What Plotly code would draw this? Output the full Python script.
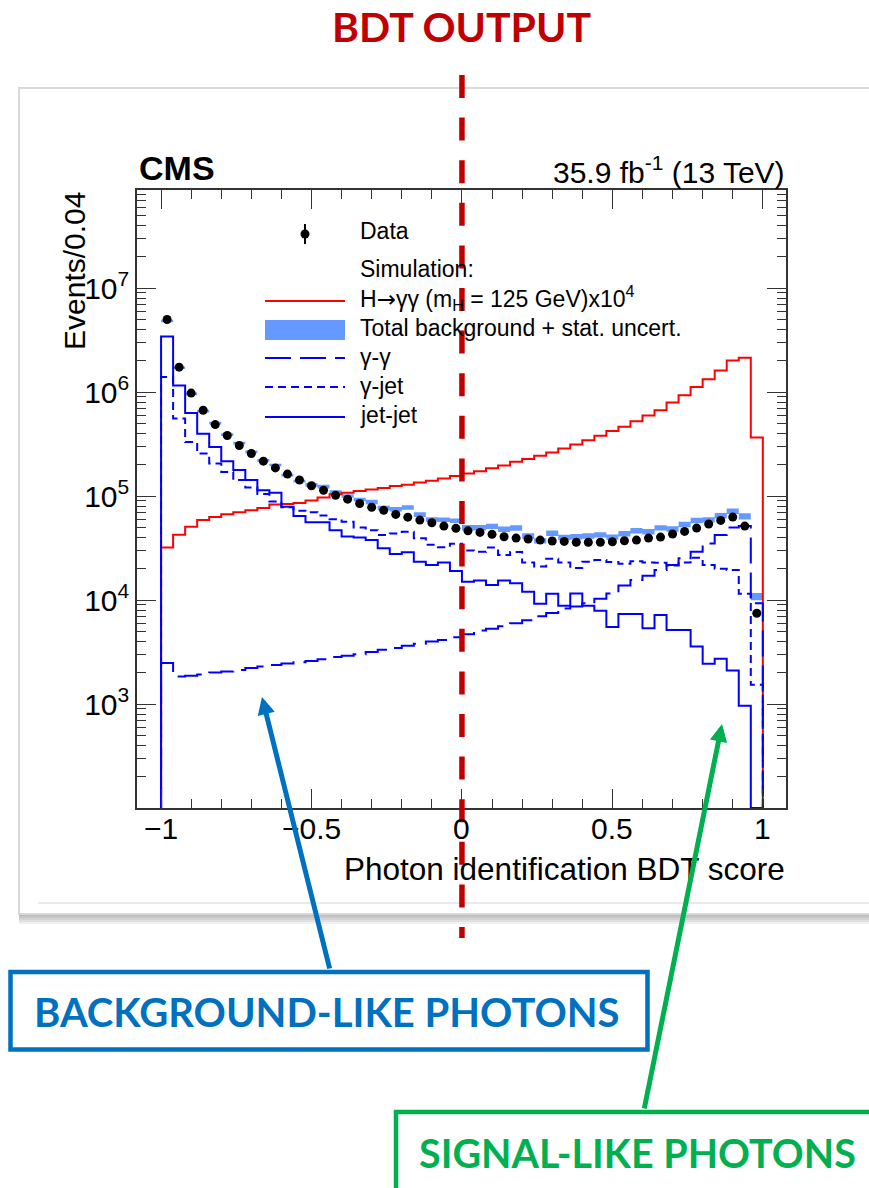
import numpy as np
import plotly.graph_objects as go

# ---------------- binning and axes ----------------
n_bins = 50
x_lo, x_hi = -1.0, 1.0
x_range = [-1.08, 1.077]
y_range_log = [2.0, 7.945]

x_tick_vals = [-1, -0.5, 0, 0.5, 1]
x_tick_text = ["\u22121", "\u22120.5", "0", "0.5", "1"]
y_tick_vals = [1e3, 1e4, 1e5, 1e6, 1e7]
y_tick_text = ["10<sup>3</sup>", "10<sup>4</sup>", "10<sup>5</sup>",
               "10<sup>6</sup>", "10<sup>7</sup>"]

# ---------------- histogram contents (events / 0.04) ----------------
data_events = [
    5.0e6, 1.74e6, 9.8e5, 6.7e5, 4.88e5, 3.83e5, 3.07e5, 2.57e5, 2.17e5, 1.87e5,
    1.63e5, 1.43e5, 1.26e5, 1.14e5, 1.02e5, 9.35e4, 8.5e4, 7.8e4, 7.3e4, 6.67e4,
    6.28e4, 5.88e4, 5.54e4, 5.15e4, 4.9e4, 4.64e4, 4.48e4, 4.29e4, 4.07e4, 3.95e4,
    3.87e4, 3.78e4, 3.7e4, 3.67e4, 3.6e4, 3.6e4, 3.6e4, 3.64e4, 3.72e4, 3.78e4,
    3.95e4, 4.04e4, 4.32e4, 4.58e4, 4.93e4, 5.39e4, 5.84e4, 6.29e4, 5.15e4, 7.48e3,
]

sig_hgg_x1e4 = [
    3.2e4, 4.25e4, 5.07e4, 5.88e4, 6.3e4, 6.7e4, 7.0e4, 7.3e4, 7.7e4, 8.3e4,
    8.4e4, 8.6e4, 9.1e4, 9.7e4, 1.045e5, 1.08e5, 1.12e5, 1.16e5, 1.2e5, 1.25e5,
    1.29e5, 1.35e5, 1.41e5, 1.48e5, 1.56e5, 1.65e5, 1.74e5, 1.85e5, 1.97e5, 2.14e5,
    2.28e5, 2.44e5, 2.63e5, 2.87e5, 3.14e5, 3.45e5, 3.8e5, 4.24e5, 4.65e5, 5.25e5,
    5.96e5, 6.7e5, 7.94e5, 9.34e5, 1.12e6, 1.33e6, 1.62e6, 2.02e6, 2.15e6, 3.66e5,
]

bkg_gamma_gamma = [
    2.48e3, 1.84e3, 1.87e3, 1.92e3, 2.01e3, 2.06e3, 2.13e3, 2.22e3, 2.3e3, 2.38e3,
    2.46e3, 2.52e3, 2.6e3, 2.7e3, 2.83e3, 2.91e3, 3.02e3, 3.16e3, 3.32e3, 3.47e3,
    3.63e3, 3.8e3, 3.99e3, 4.14e3, 4.4e3, 4.7e3, 5.1e3, 5.3e3, 5.6e3, 6.0e3,
    6.4e3, 7.0e3, 7.5e3, 8.3e3, 8.7e3, 9.3e3, 1.03e4, 1.16e4, 1.38e4, 1.56e4,
    1.71e4, 1.95e4, 2.17e4, 2.52e4, 2.92e4, 3.51e4, 4.22e4, 5.0e4, 5.15e4, 9.3e3,
]

bkg_gamma_jet = [
    1.4e6, 5.57e5, 3.32e5, 2.57e5, 2.06e5, 1.71e5, 1.43e5, 1.21e5, 1.05e5, 8.9e4,
    7.8e4, 7.25e4, 7.0e4, 6.5e4, 6.0e4, 5.66e4, 5.0e4, 4.71e4, 4.22e4, 4.38e4,
    4.54e4, 3.93e4, 3.4e4, 3.23e4, 3.48e4, 3.0e4, 2.92e4, 3.2e4, 2.72e4, 2.9e4,
    2.3e4, 2.1e4, 2.5e4, 2.3e4, 2.04e4, 2.34e4, 2.43e4, 2.33e4, 2.24e4, 2.36e4,
    2.3e4, 2.29e4, 2.15e4, 2.3e4, 2.56e4, 2.17e4, 2.0e4, 1.95e4, 1.15e4, 1.53e3,
]

bkg_jet_jet = [
    3.44e6, 1.16e6, 6.3e5, 3.98e5, 2.97e5, 2.17e5, 1.78e5, 1.43e5, 1.14e5, 1.08e5,
    7.9e4, 6.45e4, 5.6e4, 5.6e4, 4.7e4, 4.1e4, 4.0e4, 3.78e4, 3.15e4, 2.78e4,
    2.89e4, 2.34e4, 2.17e4, 2.3e4, 1.9e4, 1.5e4, 1.54e4, 1.4e4, 1.54e4, 1.45e4,
    1.2e4, 9.2e3, 1.15e4, 8.8e3, 1.16e4, 8.8e3, 7.9e3, 5.5e3, 7.36e3, 7.36e3,
    5.37e3, 7.2e3, 5.16e3, 5.16e3, 3.57e3, 2.44e3, 2.72e3, 2.1e3, 964, 0,
]

# relative MC statistical uncertainty of the summed background
bkg_stat_rel = [
    0.03, 0.03, 0.03, 0.03, 0.03, 0.03, 0.03, 0.03, 0.03, 0.03,
    0.03, 0.03, 0.04, 0.04, 0.04, 0.04, 0.04, 0.05, 0.05, 0.05,
    0.05, 0.05, 0.05, 0.05, 0.05, 0.06, 0.06, 0.06, 0.06, 0.06,
    0.06, 0.06, 0.06, 0.06, 0.06, 0.06, 0.06, 0.06, 0.06, 0.06,
    0.06, 0.06, 0.06, 0.06, 0.06, 0.06, 0.06, 0.06, 0.07, 0.08,
]

# ---------------- styling ----------------
W, H = 869, 1188
ML, MR, MT, MB = 137, 83, 190, 380
PW, PH = W - ML - MR, H - MT - MB
ROOT_FONT = "Liberation Sans, Arial, Helvetica, sans-serif"
SLIDE_FONT = "Lato, Open Sans, sans-serif"
RED = "#ff0000"
BLUE = "#0000ff"
BAND = "#6699ff"
AXIS = "#333333"
DARK_RED = "#c00000"
SLIDE_BLUE = "#0070c0"
SLIDE_GREEN = "#00b050"
DASH_GG = "26px,9px"
DASH_GJ = "8px,5px"
ARROW = "<span style='font-family:DejaVu Sans'>\u2192</span>"


def px(X):
    """page pixel column -> paper x"""
    return (X - ML) / PW


def py(Y):
    """page pixel row -> paper y"""
    return (H - MB - Y) / PH


edges = np.linspace(x_lo, x_hi, n_bins + 1)
centers = 0.5 * (edges[:-1] + edges[1:])
y_floor = 10 ** y_range_log[0]


def step_xy(vals):
    xs, ys = [x_lo], [y_floor]
    for i, v in enumerate(vals):
        v = v if v > 0 else y_floor
        xs += [edges[i], edges[i + 1]]
        ys += [v, v]
    xs.append(x_hi)
    ys.append(y_floor)
    return xs, ys


bkg_total = np.array(bkg_gamma_gamma) + np.array(bkg_gamma_jet) + np.array(bkg_jet_jet)
band_x, band_y = [], []
for i in range(n_bins):
    lo = bkg_total[i] * (1 - bkg_stat_rel[i])
    hi = bkg_total[i] * (1 + bkg_stat_rel[i])
    band_x += [edges[i], edges[i + 1], edges[i + 1], edges[i], edges[i], None]
    band_y += [lo, lo, hi, hi, lo, None]

fig = go.Figure()

fig.add_trace(go.Scatter(x=band_x, y=band_y, mode="lines", fill="toself",
                         fillcolor=BAND, line=dict(width=0, color=BAND),
                         hoverinfo="skip", name="Total background + stat. uncert."))

for vals, color, dash, name in [
    (sig_hgg_x1e4, RED, "solid", "H\u2192\u03b3\u03b3"),
    (bkg_gamma_gamma, BLUE, DASH_GG, "\u03b3-\u03b3"),
    (bkg_gamma_jet, BLUE, DASH_GJ, "\u03b3-jet"),
    (bkg_jet_jet, BLUE, "solid", "jet-jet"),
]:
    sx, sy = step_xy(vals)
    fig.add_trace(go.Scatter(x=sx, y=sy, mode="lines", name=name,
                             line=dict(color=color, width=2, dash=dash)))

fig.add_trace(go.Scatter(
    x=centers, y=data_events, mode="markers", name="Data",
    marker=dict(color="black", size=9),
    error_y=dict(type="data", array=np.sqrt(data_events), color="black",
                 thickness=1.5, width=0),
))

axis_common = dict(
    showgrid=False, zeroline=False, showline=True, linecolor=AXIS, linewidth=1.5,
    mirror="allticks", ticks="inside", ticklen=19, tickwidth=1.3, tickcolor=AXIS,
    tickfont=dict(family=ROOT_FONT, size=30, color="black"), automargin=False,
)

fig.update_xaxes(range=x_range, tickvals=x_tick_vals, showticklabels=False,
                 minor=dict(dtick=0.1, tick0=0, ticks="inside", ticklen=9,
                            tickwidth=1.3, tickcolor=AXIS),
                 **axis_common)

minor_y = [k * 10 ** d for d in range(2, 8) for k in range(2, 10)]
fig.update_yaxes(type="log", range=y_range_log, tickvals=y_tick_vals,
                 ticktext=y_tick_text,
                 minor=dict(tickvals=minor_y, ticks="inside", ticklen=9,
                            tickwidth=1.3, tickcolor=AXIS),
                 **axis_common)

shapes = []
# screenshot frame with soft shadow
for k in range(5):
    shapes.append(dict(type="rect", xref="paper", yref="paper", layer="below",
                       x0=px(19), x1=px(885), y0=py(96), y1=py(916 + 2 * k),
                       fillcolor="rgba(0,0,0,0.06)", line=dict(width=0)))
shapes.append(dict(type="rect", xref="paper", yref="paper", layer="below",
                   x0=px(19), x1=px(885), y0=py(88), y1=py(914),
                   fillcolor="white", line=dict(color="#d9d9d9", width=2)))
shapes.append(dict(type="line", xref="paper", yref="paper", layer="below",
                   x0=px(38), x1=px(875), y0=py(903), y1=py(903),
                   line=dict(color="#e3e3e3", width=1.5)))

# legend symbols
shapes.append(dict(type="line", xref="paper", yref="paper", x0=px(305), x1=px(305),
                   y0=py(224), y1=py(244), line=dict(color="black", width=2)))
shapes.append(dict(type="circle", xref="paper", yref="paper", x0=px(300.5), x1=px(309.5),
                   y0=py(229.5), y1=py(238.5), fillcolor="black", line=dict(width=0)))
shapes.append(dict(type="line", xref="paper", yref="paper", x0=px(265), x1=px(345),
                   y0=py(301), y1=py(301), line=dict(color=RED, width=2)))
shapes.append(dict(type="rect", xref="paper", yref="paper", x0=px(265), x1=px(345),
                   y0=py(320), y1=py(340), fillcolor=BAND, line=dict(width=0)))
shapes.append(dict(type="line", xref="paper", yref="paper", x0=px(265), x1=px(345),
                   y0=py(358), y1=py(358), line=dict(color=BLUE, width=2, dash=DASH_GG)))
shapes.append(dict(type="line", xref="paper", yref="paper", x0=px(265), x1=px(345),
                   y0=py(387), y1=py(387), line=dict(color=BLUE, width=2, dash=DASH_GJ)))
shapes.append(dict(type="line", xref="paper", yref="paper", x0=px(265), x1=px(345),
                   y0=py(417), y1=py(417), line=dict(color=BLUE, width=2)))

# BDT = 0 marker line
shapes.append(dict(type="line", xref="x", yref="paper", x0=0, x1=0,
                   y0=py(75), y1=py(938), layer="above",
                   line=dict(color=DARK_RED, width=5.5, dash="23px,19.6px")))

# callout boxes
shapes.append(dict(type="rect", xref="paper", yref="paper", x0=px(10.5), x1=px(647.5),
                   y0=py(972), y1=py(1049.5), fillcolor="white",
                   line=dict(color=SLIDE_BLUE, width=4.5)))
shapes.append(dict(type="rect", xref="paper", yref="paper", x0=px(396), x1=px(880),
                   y0=py(1112), y1=py(1194), fillcolor="white",
                   line=dict(color=SLIDE_GREEN, width=4.5)))

annotations = []


def text(x, y, s, size, xanchor="left", color="black", family=ROOT_FONT, **kw):
    annotations.append(dict(x=px(x), y=py(y), xref="paper", yref="paper", text=s,
                            showarrow=False, xanchor=xanchor, yanchor="middle",
                            font=dict(family=family, size=size, color=color), **kw))


# x tick labels
for v, lab in zip(x_tick_vals, x_tick_text):
    annotations.append(dict(x=v, y=py(828), xref="x", yref="paper", text=lab,
                            showarrow=False, xanchor="center", yanchor="middle",
                            font=dict(family=ROOT_FONT, size=30, color="black")))

text(137, 168, "<b>CMS</b>", 34)
text(787, 170, "35.9 fb<sup>-1</sup> (13 TeV)", 30, xanchor="right")
text(787, 869, "Photon identification BDT score", 31.5, xanchor="right")
annotations.append(dict(x=px(74), y=py(190), xref="paper", yref="paper",
                        text="Events/0.04", showarrow=False, textangle=-90,
                        xanchor="center", yanchor="top",
                        font=dict(family=ROOT_FONT, size=30, color="black")))

leg_x = 358
text(leg_x, 231, "Data", 23)
text(leg_x, 269, "Simulation:", 23)
text(leg_x, 298, "H" + ARROW + "\u03b3\u03b3 (m<sub>H</sub> = 125 GeV)x10<sup>4</sup>", 23)
text(leg_x, 328, "Total background + stat. uncert.", 23)
text(leg_x, 357, "\u03b3-\u03b3", 23)
text(leg_x, 386, "\u03b3-jet", 23)
text(leg_x, 415, "jet-jet", 23)

text(461, 27, "<b>BDT OUTPUT</b>", 41, xanchor="center", color=DARK_RED, family=SLIDE_FONT)
text(327, 1012, "<b>BACKGROUND-LIKE PHOTONS</b>", 40, xanchor="center",
     color=SLIDE_BLUE, family=SLIDE_FONT)
text(417, 1152, "<b>SIGNAL-LIKE PHOTONS</b>", 39.5, color=SLIDE_GREEN, family=SLIDE_FONT)

# callout arrows (tip, tail in page pixels)
for (tx, ty), (bx, by), color in [((262, 697), (330, 970), SLIDE_BLUE),
                                  ((722, 724), (644, 1110), SLIDE_GREEN)]:
    annotations.append(dict(x=px(tx), y=py(ty), xref="paper", yref="paper", text="",
                            showarrow=True, ax=bx - tx, ay=by - ty, arrowhead=2,
                            arrowsize=0.7, arrowwidth=5, arrowcolor=color))

fig.update_layout(
    width=W, height=H, margin=dict(l=ML, r=MR, t=MT, b=MB, pad=0),
    paper_bgcolor="white", plot_bgcolor="rgba(0,0,0,0)", showlegend=False,
    shapes=shapes, annotations=annotations,
)

fig.write_html("out.html")
